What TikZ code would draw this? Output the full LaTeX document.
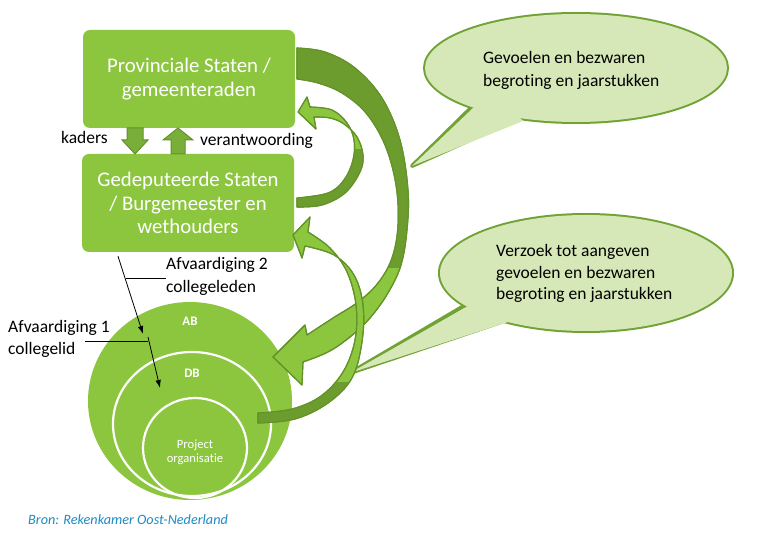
\documentclass[tikz,border=0pt]{standalone}
\usepackage{fontspec}
\setmainfont{Carlito}[Ligatures=NoCommon]
\usetikzlibrary{shapes.geometric,arrows.meta,calc}
\definecolor{boxgreen}{RGB}{140,198,63}
\definecolor{darkgreen}{RGB}{108,156,46}
\definecolor{edgegreen}{RGB}{98,146,40}
\definecolor{blockfill}{RGB}{122,174,58}
\definecolor{callfill}{RGB}{214,232,183}
\definecolor{calledge}{RGB}{112,163,52}
\definecolor{bronblue}{RGB}{30,140,195}

\newcommand\PathBig{plot[smooth, tension=0.6] coordinates {(297,48) (325,52) (355,68) (382,98) (400,140) (408,190) (407,230) (401,265) (388,293) (370,318) (350,337) (328,352) (303,362)} -- (302,385) -- (273,357) -- (305,325) -- plot[smooth, tension=0.6] coordinates {(307,335) (333,318) (358,302) (378,283) (392,258) (398,225) (396,185) (385,145) (366,113) (342,93) (318,83) (297,79)} -- cycle}
\newcommand\PathLoop{plot[smooth, tension=0.6] coordinates {(297,207) (322,205) (345,193) (360,172) (363,155) (357,137) (344,124) (330,118) (314,117)} -- (316,129) -- (298,112) -- (307,97) -- plot[smooth, tension=0.6] coordinates {(310,107) (332,110) (347,123) (354,140) (353,160) (344,180) (328,193) (297,198)} -- cycle}
\newcommand\PathLow{plot[smooth, tension=0.6] coordinates {(258,423) (295,419) (328,403) (352,378) (362,342) (363,305) (354,275) (334,255) (305,246)} -- (302,258) -- (293,235) -- (310,217) -- plot[smooth, tension=0.6] coordinates {(308,232) (330,248) (347,272) (356,305) (355,340) (343,372) (321,396) (292,409) (258,413)} -- cycle}

\begin{document}
\begin{tikzpicture}[x=1pt,y=-1pt,
  box/.style={fill=boxgreen, rounded corners=7pt, text=white, align=center,
    minimum width=212pt, minimum height=98pt, inner sep=0pt,
    font=\fontsize{20.8}{23.5}\selectfont},
  lbl/.style={inner sep=0pt, anchor=base west, font=\fontsize{17.5}{21}\selectfont},
  small/.style={inner sep=0pt, anchor=base, text=white, font=\fontsize{12.6}{14}\selectfont},
  blockarr/.style={fill=blockfill, draw=edgegreen, line width=1pt, line join=miter},
  curvearr/.style={fill=boxgreen, draw=edgegreen, line width=1.1pt, line join=round},
  thin/.style={draw=black, line width=0.8pt, -{Latex[length=8pt,width=5.5pt]}},
  lead/.style={draw=black, line width=0.8pt}]
\useasboundingbox (0,0) rectangle (757,534);
\fill[white] (0,0) rectangle (757,534);

% ---- call-outs (stroke wide, then fill over to leave a 2pt outline)
\draw[calledge, line width=4pt, line join=round] (478,101) -- (412,166) -- (528,114);
\node[ellipse, draw=calledge, line width=4pt, fill=callfill, minimum width=302pt, minimum height=108pt, inner sep=0pt] (call1) at (576,68) {};
\fill[callfill] (576,68) ellipse [x radius=151pt, y radius=54pt];
\fill[callfill] (412,166) -- (473,108) -- (500,98) -- (523,121) -- cycle;
\node[lbl] (c1a) at (483,64) {Gevoelen en bezwaren};
\node[lbl] (c1b) at (483,87) {begroting en jaarstukken};

\draw[calledge, line width=4pt, line join=round] (474,300) -- (350,373) -- (513,318);
\node[ellipse, draw=calledge, line width=4pt, fill=callfill, minimum width=292pt, minimum height=116pt, inner sep=0pt] (call2) at (586,273) {};
\fill[callfill] (586,273) ellipse [x radius=146pt, y radius=58pt];
\fill[callfill] (350,373) -- (468,306) -- (495,300) -- (508,322) -- cycle;
\node[lbl] (c2a) at (496,257) {Verzoek tot aangeven};
\node[lbl] (c2b) at (496,279) {gevoelen en bezwaren};
\node[lbl] (c2c) at (496,300) {begroting en jaarstukken};

% ---- boxes
\node[box] (ps) at (189,79) {Provinciale Staten /\\gemeenteraden};
\node[box] (gs) at (188,203) {Gedeputeerde Staten\\/ Burgemeester en\\wethouders};

% block arrows between boxes
\draw[blockarr] (127,128) -- (143,128) -- (143,140) -- (148,140) -- (135,154) -- (122,140) -- (127,140) -- cycle;
\draw[blockarr] (171,154) -- (185,154) -- (185,140) -- (193,140) -- (178,128) -- (163,140) -- (171,140) -- cycle;
\node[lbl] (kad) at (61,144) {kaders};
\node[lbl] (ver) at (200,146) {verantwoording};

% ---- circles
\node[ellipse, fill=boxgreen, minimum width=204pt, minimum height=198pt, inner sep=0pt] (ab) at (190,401) {};
\node[ellipse, draw=white, line width=2.2pt, minimum width=158pt, minimum height=144pt, inner sep=0pt] (db) at (192,424) {};
\node[ellipse, draw=white, line width=2.2pt, minimum width=104pt, minimum height=100pt, inner sep=0pt] (po) at (195,448) {};
\node[small, font=\fontsize{13}{14}\selectfont\bfseries] (tab) at (190,326) {AB};
\node[small, font=\fontsize{13}{14}\selectfont\bfseries] (tdb) at (192,377) {DB};
\node[small] (tp1) at (195,448) {Project};
\node[small] (tp2) at (195,462) {organisatie};

% ---- curved arrows
\fill[curvearr] \PathBig;
\begin{scope}
  \clip (250,0) rectangle (460,268);
  \fill[darkgreen] \PathBig;
\end{scope}
\draw[edgegreen, line width=1.1pt, line join=round] \PathBig;

\fill[curvearr] \PathLoop;
\begin{scope}
  \clip (290,150) rectangle (380,230);
  \fill[darkgreen] \PathLoop;
\end{scope}
\draw[edgegreen, line width=1.1pt, line join=round] \PathLoop;

\fill[curvearr] \PathLow;
\begin{scope}
  \clip (250,382) rectangle (380,440);
  \fill[darkgreen] \PathLow;
\end{scope}
\draw[edgegreen, line width=1.1pt, line join=round] \PathLow;

% ---- delegation arrows and labels
\coordinate (d1s) at ($(gs.south)+(-70,4)$);
\coordinate (d1e) at (143,334);
\coordinate (d2s) at (148,337);
\coordinate (d2e) at (160,388);
\draw[thin] (d1s) -- (d1e);
\draw[thin] (d2s) -- (d2e);
\node[lbl] (af2a) at (166,270) {Afvaardiging 2};
\node[lbl] (af2b) at (166,293) {collegeleden};
\coordinate (l2s) at (126,278);
\draw[lead] (l2s) -- (af2a.west |- l2s);
\node[lbl] (af1a) at (8,332) {Afvaardiging 1};
\node[lbl] (af1b) at (8,354) {collegelid};
\coordinate (l1s) at (85,341);
\draw[lead] (l1s) -- (d2s |- l1s);

% ---- source
\node[inner sep=0pt, anchor=base west, text=bronblue, font=\fontsize{14.2}{16}\selectfont\itshape] (bron) at (28,524) {Bron: Rekenkamer Oost-Nederland};
\end{tikzpicture}
\end{document}
